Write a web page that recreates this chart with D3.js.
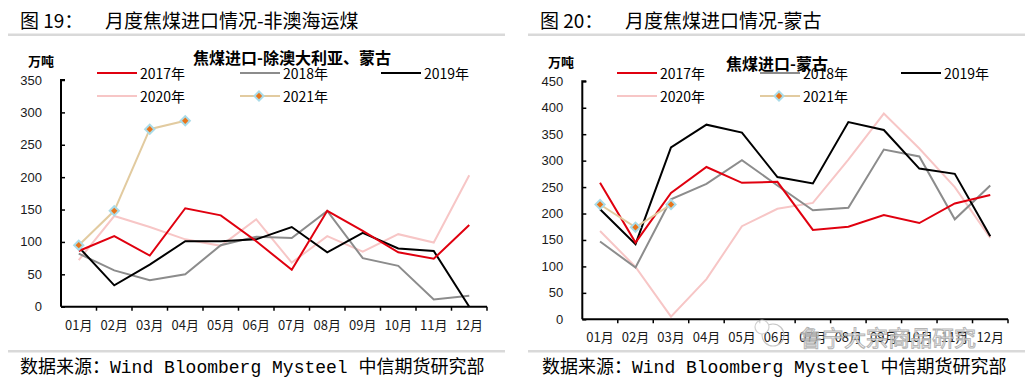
<!DOCTYPE html>
<html><head><meta charset="utf-8">
<script src="https://cdn.jsdelivr.net/npm/d3@7"></script>
<style>
html,body{margin:0;padding:0;background:#fff;}
svg{display:block;}
</style></head><body>
<svg id="c" width="1031" height="381"></svg>
<script>
const months = ["01月","02月","03月","04月","05月","06月","07月","08月","09月","10月","11月","12月"];
const seriesNames = ["2017年","2018年","2019年","2020年","2021年"];
const seriesColors = ["#e0000f","#8c8c8c","#000000","#f7c6c6","#e2cba0"];

// Chart 1: 焦煤进口-除澳大利亚、蒙古 (万吨)
const c1_2017 = [86,109,79,152,141,101,57,148,117,84,74,126];
const c1_2018 = [82,56,41,50,95,108,106,148,75,63,11,17];
const c1_2019 = [92,33,65,101,101,104,123,84,114,90,86,0];
const c1_2020 = [72,140,123,104,94,135,68,109,85,112,99,203];
const c1_2021 = [95,148,274,287];
const c1_ticks = [0,50,100,150,200,250,300,350];

// Chart 2: 焦煤进口-蒙古 (万吨)
const c2_2017 = [258,145,239,288,258,260,169,175,197,182,219,235];
const c2_2018 = [147,98,227,256,301,253,206,211,321,308,189,253];
const c2_2019 = [208,142,325,368,353,269,257,373,358,285,275,157];
const c2_2020 = [167,99,5,76,176,209,220,302,389,323,250,154];
const c2_2021 = [217,174,217];
const c2_ticks = [0,50,100,150,200,250,300,350,400,450];

const svg = d3.select("#c");
const CJK = "'Noto Sans CJK SC','Noto Sans',sans-serif";
const LAT = "'Liberation Sans',Arial,sans-serif";

function drawPanel(o){
  const g = svg.append("g");
  // header title
  g.append("text").attr("x",o.px+20).attr("y",19).attr("dominant-baseline","central")
    .style("font-family",CJK).style("font-size","19px").attr("fill","#000")
    .text(o.figNo);
  g.append("text").attr("x",o.px+105).attr("y",19).attr("dominant-baseline","central")
    .style("font-family",CJK).style("font-size","19px").attr("fill","#000")
    .text(o.figTitle);
  g.append("rect").attr("x",o.px+8).attr("y",33.5).attr("width",497).attr("height",2.5).attr("fill","#d9d9d9");
  // footer
  g.append("rect").attr("x",o.px+8).attr("y",350).attr("width",497).attr("height",2.5).attr("fill","#d9d9d9");
  g.append("text").attr("x",o.px+o.footX).attr("y",368).attr("dominant-baseline","central")
    .style("font-family","'Liberation Mono','DejaVu Sans Mono','Noto Sans CJK SC',monospace").style("font-size","18px").attr("fill","#000")
    .text("数据来源：Wind Bloomberg Mysteel 中信期货研究部");

  const x = d3.scaleBand().domain(months).range([o.x0,o.x1]);
  const y = d3.scaleLinear().domain([0,o.ymax]).range([o.y0,o.ytop]);

  // y axis
  const ya = g.append("g").attr("transform",`translate(${o.x0},0)`)
    .call(d3.axisRight(y).tickValues(o.ticks).tickSize(4).tickFormat(""));
  ya.select(".domain").attr("stroke","#000").attr("stroke-width",2).attr("d",`M4,${y(o.ymax)}H0V${o.y0}`);
  ya.selectAll(".tick line").attr("stroke","#000").attr("stroke-width",1.5);
  o.ticks.forEach(t=>{
    g.append("text").attr("x",o.x0-19).attr("y",y(t)).attr("text-anchor","end").attr("dominant-baseline","central")
      .style("font-family",LAT).style("font-size","13px").attr("fill","#1a1a1a").text(t);
  });
  // x axis
  const xa = g.append("g").attr("transform",`translate(0,${o.y0})`)
    .call(d3.axisBottom(x).tickSize(0).tickFormat(""));
  xa.select(".domain").attr("stroke","#000").attr("stroke-width",2).attr("d",`M${o.x0},0H${o.x1}`);
  const bounds = months.map(m=>x(m)).concat([o.x1]);
  bounds.slice(1).forEach(b=>{
    g.append("line").attr("x1",b).attr("x2",b).attr("y1",o.y0).attr("y2",o.y0+4).attr("stroke","#000").attr("stroke-width",1.5);
  });
  months.forEach(m=>{
    g.append("text").attr("x",x(m)+x.bandwidth()/2).attr("y",o.y0+17.5).attr("text-anchor","middle").attr("dominant-baseline","central")
      .style("font-family",CJK).style("font-size","13px").attr("fill","#1a1a1a").text(m);
  });

  const line = d3.line().x((d,i)=>x(months[i])+x.bandwidth()/2).y(d=>y(d));
  const order = [3,1,2,0,4];
  order.forEach(si=>{
    g.append("path").datum(o.series[si]).attr("d",line).attr("fill","none")
      .attr("stroke",seriesColors[si]).attr("stroke-width",2).attr("stroke-linejoin","miter");
  });
  // markers 2021
  const s21 = o.series[4];
  s21.forEach((v,i)=>{
    const cx = x(months[i])+x.bandwidth()/2, cy=y(v);
    diamond(g,cx,cy);
  });

  // chart title
  g.append("text").attr("x",o.titleX).attr("y",o.titleY).attr("text-anchor","middle").attr("dominant-baseline","central")
    .style("font-family",CJK).style("font-size","16px").style("font-weight","bold").attr("fill","#000").text(o.chartTitle);
  g.append("text").attr("x",o.px+28).attr("y",o.unitY).attr("dominant-baseline","central")
    .style("font-family",CJK).style("font-size","13px").style("font-weight","bold").attr("fill","#000").text("万吨");

  // legend
  const lx = [o.px+97,o.px+240,o.px+381,o.px+97,o.px+240];
  const ly = [73,73,73,96,96];
  seriesNames.forEach((n,i)=>{
    g.append("line").attr("x1",lx[i]).attr("x2",lx[i]+40).attr("y1",ly[i]).attr("y2",ly[i])
      .attr("stroke",seriesColors[i]).attr("stroke-width",2);
    if(i===4) diamond(g,lx[i]+19,ly[i]);
    g.append("text").attr("x",lx[i]+43).attr("y",ly[i]).attr("dominant-baseline","central")
      .style("font-family",CJK).style("font-size","14px").attr("fill","#000").text(n);
  });
}
function diamond(g,cx,cy){
  g.append("path").attr("d",`M${cx},${cy-6}L${cx+6},${cy}L${cx},${cy+6}L${cx-6},${cy}Z`).attr("fill","#a9dbe8");
  g.append("path").attr("d",`M${cx},${cy-3.2}L${cx+3.2},${cy}L${cx},${cy+3.2}L${cx-3.2},${cy}Z`).attr("fill","#e8741a");
}

drawPanel({px:0, figNo:"图 19：", figTitle:"月度焦煤进口情况-非澳海运煤", footX:20,
  x0:61, x1:487, y0:306.7, ytop:80, ymax:350, ticks:c1_ticks,
  series:[c1_2017,c1_2018,c1_2019,c1_2020,c1_2021],
  chartTitle:"焦煤进口-除澳大利亚、蒙古", titleX:292, titleY:57, unitY:60});
drawPanel({px:520, figNo:"图 20：", figTitle:"月度焦煤进口情况-蒙古", footX:22,
  x0:582.3, x1:1008, y0:319.3, ytop:81.3, ymax:450, ticks:c2_ticks,
  series:[c2_2017,c2_2018,c2_2019,c2_2020,c2_2021],
  chartTitle:"焦煤进口-蒙古", titleX:777, titleY:63, unitY:61});

// watermark
const wm = svg.append("g").attr("opacity",0.85);
wm.append("circle").attr("cx",773).attr("cy",335).attr("r",11).attr("fill","none").attr("stroke","#bdbdbd").attr("stroke-width",1.2);
wm.append("circle").attr("cx",762).attr("cy",327).attr("r",7).attr("fill","#fff").attr("stroke","#c8c8c8").attr("stroke-width",1.2);
wm.append("text").attr("x",800).attr("y",336).attr("dominant-baseline","central")
  .style("font-family",CJK).style("font-size","22px").attr("fill","#ffffff").attr("stroke","#a8a8a8").attr("stroke-width",1)
  .text("鲁宁大宗商品研究");
</script>
</body></html>
